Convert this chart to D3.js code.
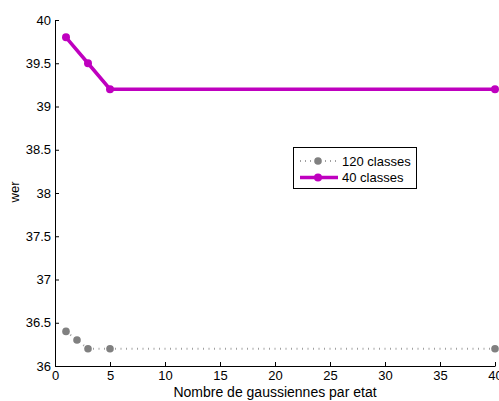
<!DOCTYPE html>
<html><head><meta charset="utf-8">
<script src="https://cdn.jsdelivr.net/npm/d3@7"></script>
<style>body{margin:0;background:#fff}svg{display:block;font-family:"Liberation Sans",Arial,sans-serif}</style>
</head><body><svg id="c" width="499" height="401"></svg>
<script>
const x120 = [1, 2, 3, 5, 40];
const y120 = [36.4, 36.3, 36.2, 36.2, 36.2];
const x40 = [1, 3, 5, 40];
const y40 = [39.8, 39.5, 39.2, 39.2];
const xTicks = [0, 5, 10, 15, 20, 25, 30, 35, 40];
const yTicks = [36, 36.5, 37, 37.5, 38, 38.5, 39, 39.5, 40];
const seriesNames = ["120 classes", "40 classes"];

const svg = d3.select("#c");
const x = d3.scaleLinear().domain([0, 40]).range([55, 495]);
const y = d3.scaleLinear().domain([36, 40]).range([366, 20]);

const xAxis = svg.append("g").attr("transform", "translate(0,366)")
  .call(d3.axisBottom(x).tickValues(xTicks).tickSize(-4).tickPadding(5).tickSizeOuter(0).tickFormat(d3.format("d")));
const yAxis = svg.append("g").attr("transform", "translate(55,0)")
  .call(d3.axisLeft(y).tickValues(yTicks).tickSize(-4).tickPadding(4).tickSizeOuter(0).tickFormat(d => String(d)));
[xAxis, yAxis].forEach(a => {
  a.select(".domain").attr("stroke", "#000").attr("stroke-width", 1);
  a.selectAll(".tick line").attr("stroke", "#000");
  a.selectAll("text").attr("font-size", 13).attr("fill", "#000").attr("font-family", "Liberation Sans, Arial, sans-serif");
});

const line = d3.line().x(d => x(d[0])).y(d => y(d[1]));
const d120 = x120.map((v, i) => [v, y120[i]]);
const d40 = x40.map((v, i) => [v, y40[i]]);

const gray = "#808080", mag = "#bf00bf", dotc = "#a0a0a0";
svg.append("path").attr("d", line(d120)).attr("fill", "none").attr("stroke", dotc).attr("stroke-width", 2).attr("stroke-dasharray", "1,4.5");
svg.selectAll(".p120").data(d120).enter().append("circle").attr("cx", d => x(d[0])).attr("cy", d => y(d[1])).attr("r", 3.8).attr("fill", gray);
svg.append("path").attr("d", line(d40)).attr("fill", "none").attr("stroke", mag).attr("stroke-width", 3.5);
svg.selectAll(".p40").data(d40).enter().append("circle").attr("cx", d => x(d[0])).attr("cy", d => y(d[1])).attr("r", 4).attr("fill", mag);

// legend
const lg = svg.append("g");
lg.append("rect").attr("x", 293.5).attr("y", 147.5).attr("width", 123).attr("height", 41).attr("fill", "#fff").attr("stroke", "#000");
const rows = [161, 177.5];
lg.append("line").attr("x1", 300).attr("x2", 338).attr("y1", rows[0]).attr("y2", rows[0]).attr("stroke", dotc).attr("stroke-width", 2).attr("stroke-dasharray", "1,4");
lg.append("circle").attr("cx", 318).attr("cy", rows[0]).attr("r", 3.8).attr("fill", gray);
lg.append("line").attr("x1", 300).attr("x2", 338).attr("y1", rows[1]).attr("y2", rows[1]).attr("stroke", mag).attr("stroke-width", 3.5);
lg.append("circle").attr("cx", 318).attr("cy", rows[1]).attr("r", 4).attr("fill", mag);
seriesNames.forEach((n, i) => lg.append("text").attr("x", 342).attr("y", rows[i] + 4.5).attr("font-size", 13).text(n));

svg.append("text").attr("x", 275).attr("y", 397).attr("text-anchor", "middle").attr("font-size", 14).text("Nombre de gaussiennes par etat");
svg.append("text").attr("transform", "translate(19,192) rotate(-90)").attr("text-anchor", "middle").attr("font-size", 13).text("wer");
</script></body></html>
